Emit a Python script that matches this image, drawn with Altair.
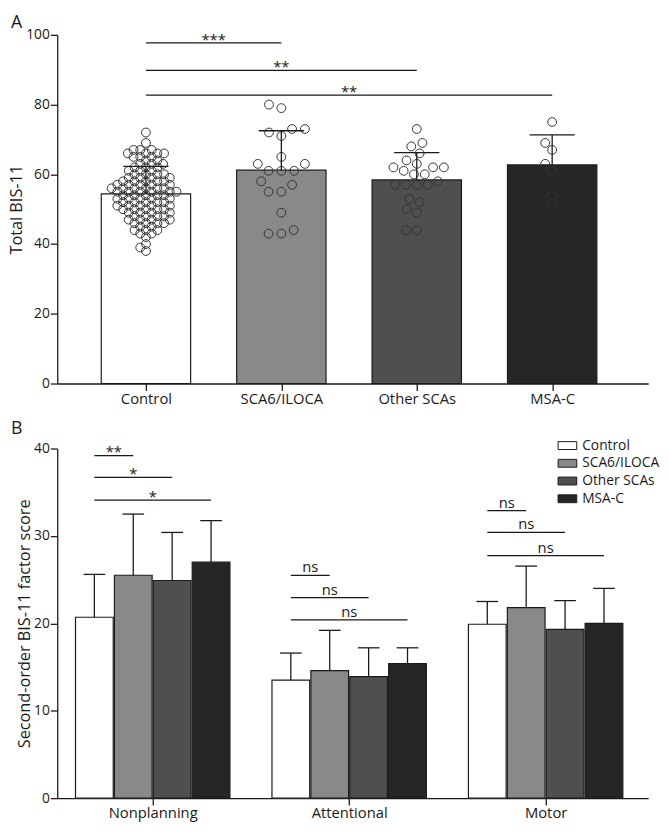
import math
import altair as alt
import pandas as pd

# ---------------- data ----------------
groups = ["Control", "SCA6/ILOCA", "Other SCAs", "MSA-C"]
group_colors = ["#ffffff", "#898989", "#4f4f4f", "#262626"]

# Panel A: total BIS-11 (mean, SD) per group
total_mean = [54.4, 61.2, 58.4, 62.7]
total_sd = [7.9, 11.3, 7.8, 8.6]

# individual scores
control_pts = [38, 39, 40, 42, 43, 43, 44, 44, 44, 45, 45,
               46, 46, 46, 46, 47, 47, 47, 47, 48, 48, 48, 48,
               49, 49, 49, 49, 50, 50, 50, 50, 50, 51, 51, 51, 51, 51,
               52, 52, 52, 52, 52, 53, 53, 53, 53, 53, 54, 54, 54, 54, 54,
               55, 55, 55, 55, 55, 55, 56, 56, 56, 56, 56, 56,
               57, 57, 57, 57, 57, 58, 58, 58, 58, 58, 59, 59, 59, 59,
               60, 60, 60, 60, 61, 61, 61, 62, 62, 62, 63, 63, 63, 64, 64,
               65, 65, 65, 66, 66, 66, 66, 67, 67, 67, 69, 72]
sca6_pts = [80, 79, 73, 73, 72, 71, 65, 63, 63, 61, 61, 61, 58, 57, 55, 55, 49, 44, 43, 43]
other_pts = [73, 69, 68, 66, 64, 63, 62, 62, 62, 61, 60, 60, 58, 57, 57, 57, 57, 53, 52, 50, 49, 44, 44]
msa_pts = [75, 69, 67, 63, 61, 54, 51]
all_pts = [control_pts, sca6_pts, other_pts, msa_pts]

# significance brackets, panel A (from Control to group index)
sig_a_to = [1, 2, 3]
sig_a_y = [97.7, 89.8, 82.7]
sig_a_text = ["***", "**", "**"]

# Panel B: second-order factor scores (mean, SD), order = groups
factors = ["Nonplanning", "Attentional", "Motor"]
nonplanning_mean = [20.7, 25.5, 24.9, 27.0]
nonplanning_sd = [4.9, 7.0, 5.5, 4.75]
attentional_mean = [13.5, 14.6, 13.9, 15.4]
attentional_sd = [3.1, 4.6, 3.3, 1.8]
motor_mean = [19.9, 21.8, 19.3, 20.0]
motor_sd = [2.6, 4.75, 3.3, 4.0]
factor_means = [nonplanning_mean, attentional_mean, motor_mean]
factor_sds = [nonplanning_sd, attentional_sd, motor_sd]

sig_b_factor = [0, 0, 0, 1, 1, 1, 2, 2, 2]
sig_b_to = [1, 2, 3, 1, 2, 3, 1, 2, 3]
sig_b_y = [39.2, 36.7, 34.1, 25.5, 22.95, 20.4, 32.9, 30.4, 27.75]
sig_b_text = ["**", "*", "*", "ns", "ns", "ns", "ns", "ns", "ns"]

# ---------------- layout ----------------
FONT = "Open Sans"
INK = "#1a1a1a"
A_W, A_H = 600, 354
A_DOM = [-0.655, 3.709]
A_HALF = 0.33
A_CAP = 0.167
B_W, B_H = 600, 355
B_DOM = [-0.486, 2.522]
B_STEP = 0.198
B_HALF = 0.096
B_CAP = 0.055
SWARM_D = [6.8, 13, 11, 10]


def beeswarm(values, d, ppu_y):
    """Deterministic beeswarm offsets (pixels) for the given values."""
    ys = [v * ppu_y for v in values]
    order = sorted(range(len(values)), key=lambda i: ys[i])
    placed = []
    xs = [0.0] * len(values)
    for k, i in enumerate(order):
        y = ys[i]
        near = [(px, py) for px, py in placed if abs(py - y) < d]
        cands = [0.0]
        for px, py in near:
            dx = math.sqrt(max(d * d - (py - y) ** 2, 0))
            cands += [px + dx, px - dx]
        sgn = 1 if k % 2 else -1
        cands.sort(key=lambda c: (round(abs(c), 4), sgn * c))
        for c in cands:
            if all((c - px) ** 2 + (y - py) ** 2 >= d * d - 1e-6 for px, py in near):
                xs[i] = c
                break
        placed.append((xs[i], y))
    return xs


a_ppu_x = A_W / (A_DOM[1] - A_DOM[0])
a_ppu_y = A_H / 100.0

dfA = pd.DataFrame({
    "idx": list(range(4)),
    "group": groups,
    "mean": total_mean,
    "upper": [m + s for m, s in zip(total_mean, total_sd)],
})
dfA["x0"] = dfA["idx"] - A_HALF
dfA["x1"] = dfA["idx"] + A_HALF
dfA["c0"] = dfA["idx"] - A_CAP
dfA["c1"] = dfA["idx"] + A_CAP

rows = []
for gi, vals in enumerate(all_pts):
    offs = beeswarm(vals, SWARM_D[gi], a_ppu_y)
    for v, o in zip(vals, offs):
        rows.append({"idx": gi, "value": v, "x": gi + o / a_ppu_x})
dfP = pd.DataFrame(rows)

dfSA = pd.DataFrame({"x0": [0] * 3, "x1": sig_a_to, "y": sig_a_y, "text": sig_a_text})
dfSA["mid"] = (dfSA["x0"] + dfSA["x1"]) / 2

label_expr_a = "[" + ",".join("'%s'" % g for g in groups) + "][datum.value]"
label_expr_b = "[" + ",".join("'%s'" % f for f in factors) + "][datum.value]"


def xa(field):
    return alt.X(field, type="quantitative",
                 scale=alt.Scale(domain=A_DOM, nice=False, zero=False),
                 axis=alt.Axis(values=[0, 1, 2, 3], labelExpr=label_expr_a, title=None,
                               grid=False, tickSize=7, labelPadding=1, labelFontSize=15))


def ya(field):
    return alt.Y(field, type="quantitative",
                 scale=alt.Scale(domain=[0, 100], nice=False),
                 axis=alt.Axis(values=[0, 20, 40, 60, 80, 100], title="Total BIS-11",
                               grid=False, tickSize=7, labelPadding=1, titlePadding=1,
                               labelFontSize=14, titleFontSize=16.5))


barsA = alt.Chart(dfA).mark_bar(stroke=INK, strokeWidth=1.2).encode(
    x=xa("x0"), x2="x1", y=ya("mean"), y2=alt.datum(0),
    fill=alt.Fill("group:N", scale=alt.Scale(domain=groups, range=group_colors), legend=None),
)
ptsA = alt.Chart(dfP).mark_point(shape="circle", filled=False, size=80,
                                  stroke="#333333", strokeWidth=1, opacity=1).encode(
    x=xa("x"), y=ya("value"))
errA = alt.Chart(dfA).mark_rule(color=INK, strokeWidth=1.3).encode(
    x=xa("idx"), y=ya("mean"), y2="upper")
capA = alt.Chart(dfA).mark_rule(color=INK, strokeWidth=1.3).encode(
    x=xa("c0"), x2="c1", y=ya("upper"))
sigLA = alt.Chart(dfSA).mark_rule(color=INK, strokeWidth=1.3).encode(
    x=xa("x0"), x2="x1", y=ya("y"))
sigTA = alt.Chart(dfSA).mark_text(font=FONT, fontSize=15, baseline="alphabetic", dy=2,
                                   color=INK).encode(x=xa("mid"), y=ya("y"), text="text:N")
letterA = alt.Chart(pd.DataFrame({"t": ["A"]})).mark_text(
    font=FONT, fontSize=18, align="left", baseline="top", color=INK).encode(
    x=alt.value(-47), y=alt.value(-21), text="t:N")

panelA = alt.layer(barsA, ptsA, errA, capA, sigLA, sigTA, letterA).properties(width=A_W, height=A_H)

# ---------------- panel B ----------------
rowsB = []
for fi, f in enumerate(factors):
    for gi, g in enumerate(groups):
        c = fi + (gi - 1.5) * B_STEP
        m = factor_means[fi][gi]
        s = factor_sds[fi][gi]
        rowsB.append({"factor": f, "group": g, "c": c, "x0": c - B_HALF, "x1": c + B_HALF,
                      "c0": c - B_CAP, "c1": c + B_CAP, "mean": m, "upper": m + s})
dfB = pd.DataFrame(rowsB)

dfSB = pd.DataFrame({"f": sig_b_factor, "to": sig_b_to, "y": sig_b_y, "text": sig_b_text})
dfSB["x0"] = dfSB["f"] + (0 - 1.5) * B_STEP
dfSB["x1"] = dfSB["f"] + (dfSB["to"] - 1.5) * B_STEP
dfSB["mid"] = (dfSB["x0"] + dfSB["x1"]) / 2
dfSB_star = dfSB[dfSB["text"] != "ns"]
dfSB_ns = dfSB[dfSB["text"] == "ns"]


def xb(field):
    return alt.X(field, type="quantitative",
                 scale=alt.Scale(domain=B_DOM, nice=False, zero=False),
                 axis=alt.Axis(values=[0, 1, 2], labelExpr=label_expr_b, title=None,
                               grid=False, tickSize=7, labelPadding=1, labelFontSize=15))


def yb(field):
    return alt.Y(field, type="quantitative",
                 scale=alt.Scale(domain=[0, 40], nice=False),
                 axis=alt.Axis(values=[0, 10, 20, 30, 40], title="Second-order BIS-11 factor score",
                               grid=False, tickSize=7, labelPadding=1, titlePadding=1,
                               labelFontSize=14, titleFontSize=16.5))


barsB = alt.Chart(dfB).mark_bar(stroke=INK, strokeWidth=1.2).encode(
    x=xb("x0"), x2="x1", y=yb("mean"), y2=alt.datum(0),
    fill=alt.Fill("group:N", scale=alt.Scale(domain=groups, range=group_colors),
                  legend=alt.Legend(orient="none", legendX=508, legendY=-13, title=None,
                                    symbolType="M-1,-0.42H1V0.42H-1Z", symbolSize=361,
                                    symbolStrokeColor=INK, symbolStrokeWidth=1,
                                    symbolOpacity=1, labelFont=FONT, labelFontSize=14,
                                    labelColor=INK, labelOffset=5, rowPadding=1)),
)
errB = alt.Chart(dfB).mark_rule(color=INK, strokeWidth=1.3).encode(
    x=xb("c"), y=yb("mean"), y2="upper")
capB = alt.Chart(dfB).mark_rule(color=INK, strokeWidth=1.3).encode(
    x=xb("c0"), x2="c1", y=yb("upper"))
sigLB = alt.Chart(dfSB).mark_rule(color=INK, strokeWidth=1.3).encode(
    x=xb("x0"), x2="x1", y=yb("y"))
sigTB1 = alt.Chart(dfSB_star).mark_text(font=FONT, fontSize=15, baseline="alphabetic", dy=2,
                                         color=INK).encode(x=xb("mid"), y=yb("y"), text="text:N")
sigTB2 = alt.Chart(dfSB_ns).mark_text(font=FONT, fontSize=15, baseline="alphabetic", dy=-3,
                                       color=INK).encode(x=xb("mid"), y=yb("y"), text="text:N")
letterB = alt.Chart(pd.DataFrame({"t": ["B"]})).mark_text(
    font=FONT, fontSize=18, align="left", baseline="top", color=INK).encode(
    x=alt.value(-47), y=alt.value(-29), text="t:N")

panelB = alt.layer(barsB, errB, capB, sigLB, sigTB1, sigTB2, letterB).properties(width=B_W, height=B_H)

chart = alt.vconcat(panelA, panelB, spacing=14, padding=0).resolve_scale(
    fill="independent").resolve_legend(fill="independent").configure_view(stroke=None).configure_axis(
    domainColor=INK, tickColor=INK, labelColor=INK, titleColor=INK,
    labelFont=FONT, titleFont=FONT, titleFontWeight="normal",
    domainWidth=1.3, tickWidth=1.3,
)

chart.save("out.html", embed_options={"renderer": "svg", "actions": False})
